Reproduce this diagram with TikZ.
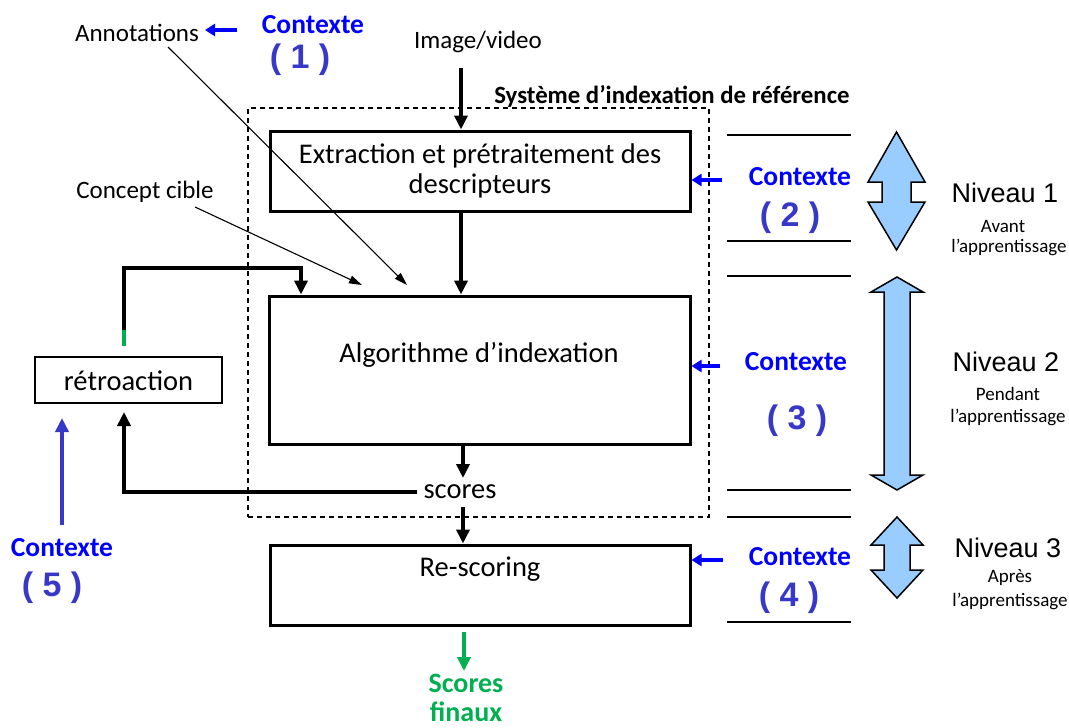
\documentclass[tikz,border=0pt]{standalone}
\usepackage{fontspec}
\setmainfont{Carlito}
\newfontfamily\arialf{Liberation Sans}
\usetikzlibrary{arrows.meta}
\definecolor{ctxblue}{HTML}{0000FF}
\definecolor{numblue}{HTML}{3737C8}
\definecolor{fgreen}{HTML}{00B050}
\definecolor{lblue}{HTML}{99CCFF}
\tikzset{
  mainbox/.style={draw, line width=3pt, inner sep=0pt},
  thickarrow/.style={line width=3.5pt, -{Triangle[width=13,length=14]}},
  thinarrow/.style={line width=1.1pt, -{Triangle[width=8,length=13]}},
  ctxarrow/.style={ctxblue, line width=4pt, -{Triangle[width=12,length=10]}},
  ctxtext/.style={text=ctxblue, font=\fontsize{27.5}{32}\selectfont\bfseries, inner sep=0pt},
  numtext/.style={text=numblue, font=\arialf\fontsize{34}{40}\selectfont\bfseries, inner sep=0pt},
  plain/.style={font=\fontsize{25}{30}\selectfont, inner sep=0pt},
  boxtext/.style={font=\fontsize{28.5}{30}\selectfont, inner sep=0pt, align=center},
  niveau/.style={font=\arialf\fontsize{27}{32}\selectfont, inner sep=0pt},
  small/.style={font=\fontsize{19}{22}\selectfont, inner sep=0pt},
  sepline/.style={line width=1.5pt},
  dbl/.style={fill=lblue, draw=black, line width=1.5pt, line join=miter},
}
\begin{document}
\begin{tikzpicture}[x=1pt,y=-1pt]
\useasboundingbox (0,0) rectangle (1069,728);

% dashed system frame
\node[draw, dashed, line width=1.3pt, dash pattern=on 5pt off 4pt, minimum width=461, minimum height=409, inner sep=0pt] (sys) at (478.5,312.5) {};
\node[font=\fontsize{24.8}{30}\selectfont\bfseries, inner sep=0pt] (systitle) at (672,96) {Système d’indexation de référence};

% main boxes
\node[mainbox, minimum width=420, minimum height=80] (b1) at (480,171) {};
\node[boxtext] (b1t) at (480,171) {Extraction et prétraitement des\\descripteurs};
\node[mainbox, minimum width=421, minimum height=148] (b2) at (479.5,370) {};
\node[boxtext] (b2t) at (479,355) {Algorithme d’indexation};
\node[mainbox, minimum width=420, minimum height=80] (b3) at (480,585) {};
\node[boxtext] (b3t) at (480,569) {Re-scoring};
\node[boxtext] (scores) at (460,492) {scores};
\node[mainbox, line width=2.5pt, minimum width=187, minimum height=46] (retro) at (128.5,380) {};
\node[boxtext] (retrot) at (128.5,381) {rétroaction};

% inputs
\node[plain] (img) at (478,42) {Image/video};
\node[plain] (annot) at (137,33) {Annotations};
\node[plain] (concept) at (145,192) {Concept cible};

% context labels
\node[ctxtext] (c1) at (313,25) {Contexte};
\node[numtext] (n1) at (300,60) {( 1 )};
\node[ctxtext] (c2) at (800,177) {Contexte};
\node[numtext] (n2) at (790,218) {( 2 )};
\node[ctxtext] (c3) at (796,362) {Contexte};
\node[numtext] (n3) at (797,421) {( 3 )};
\node[ctxtext] (c4) at (800,557) {Contexte};
\node[numtext] (n4) at (789,598) {( 4 )};
\node[ctxtext] (c5) at (62,548) {Contexte};
\node[numtext] (n5) at (52,588) {( 5 )};

% final scores
\node[font=\fontsize{28}{30}\selectfont\bfseries, text=fgreen, inner sep=0pt, anchor=base] (sf1) at (466,692) {Scores};
\node[font=\fontsize{28}{30}\selectfont\bfseries, text=fgreen, inner sep=0pt, anchor=base] (sf2) at (466,721) {finaux};

% main flow arrows
\coordinate (imgout) at (461,68);
\draw[thickarrow] (imgout) -- (imgout |- b1.north);
\draw[thickarrow] (b1.south -| imgout) -- (b2.north -| imgout);
\coordinate (sx) at (463,446);
\draw[thickarrow] (sx) -- (463,478);
\draw[thickarrow] (463,507) -- (b3.north -| sx);
\coordinate (gs) at (464,632);
\coordinate (ge) at (464,671);
\draw[fgreen, line width=3.5pt, -{Triangle[width=13,length=14]}] (gs) -- (ge);

% feedback loop
\coordinate (fbin) at (124,412);
\draw[thickarrow, shorten <=6pt] (scores.west) -| (fbin);
\coordinate (g1) at (124,346);
\coordinate (g2) at (124,330);
\coordinate (lt) at (301,268);
\draw[fgreen, line width=3.5pt] (g1) -- (g2);
\draw[thickarrow, line join=miter] (g2) |- (lt) -- (lt |- b2.north);

% annotation / concept thin arrows
\coordinate (aa) at (168,47);
\coordinate (ab) at (407,285);
\draw[thinarrow] (aa) -- (ab);
\coordinate (ca) at (195,207);
\coordinate (cb) at (362,285);
\draw[thinarrow] (ca) -- (cb);

% context arrows
\coordinate (a1s) at (237,30);
\coordinate (a1e) at (205,30);
\draw[ctxarrow] (a1s) -- (a1e);
\coordinate (a2s) at (722,180);
\draw[ctxarrow] (a2s) -- (a2s -| b1.east);
\coordinate (a3s) at (720,366);
\draw[ctxarrow] (a3s) -- (a3s -| b2.east);
\coordinate (a4s) at (723,560);
\draw[ctxarrow] (a4s) -- (a4s -| b3.east);
\coordinate (a5s) at (62,525);
\coordinate (a5e) at (62,418);
\draw[numblue, line width=3.5pt, -{Triangle[width=13,length=14]}] (a5s) -- (a5e);

% separator lines
\foreach \yy in {135,241,276,490,517,622} {
  \draw[sepline] (727,\yy) -- (851,\yy);
}

% level double arrows
\draw[dbl] (896.5,132) -- (925,182) -- (911,182) -- (911,202) -- (925,202) -- (896.5,250) -- (868,202) -- (882,202) -- (882,182) -- (868,182) -- cycle;
\draw[dbl] (897,277) -- (923,292) -- (910,292) -- (910,475) -- (923,475) -- (897,490) -- (871,475) -- (884,475) -- (884,292) -- (871,292) -- cycle;
\draw[dbl] (897,517) -- (923,545) -- (910,545) -- (910,570) -- (923,570) -- (897,598) -- (871,570) -- (884,570) -- (884,545) -- (871,545) -- cycle;

% level labels
\node[niveau] (nv1) at (1005,193) {Niveau 1};
\node[small] (nv1a) at (1003,226) {Avant};
\node[small] (nv1b) at (1009,247) {l’apprentissage};
\node[niveau] (nv2) at (1006,362) {Niveau 2};
\node[small] (nv2a) at (1008,394) {Pendant};
\node[small] (nv2b) at (1008,417) {l’apprentissage};
\node[niveau] (nv3) at (1008,548) {Niveau 3};
\node[small] (nv3a) at (1010,578) {Après};
\node[small] (nv3b) at (1010,601) {l’apprentissage};
\end{tikzpicture}
\end{document}
